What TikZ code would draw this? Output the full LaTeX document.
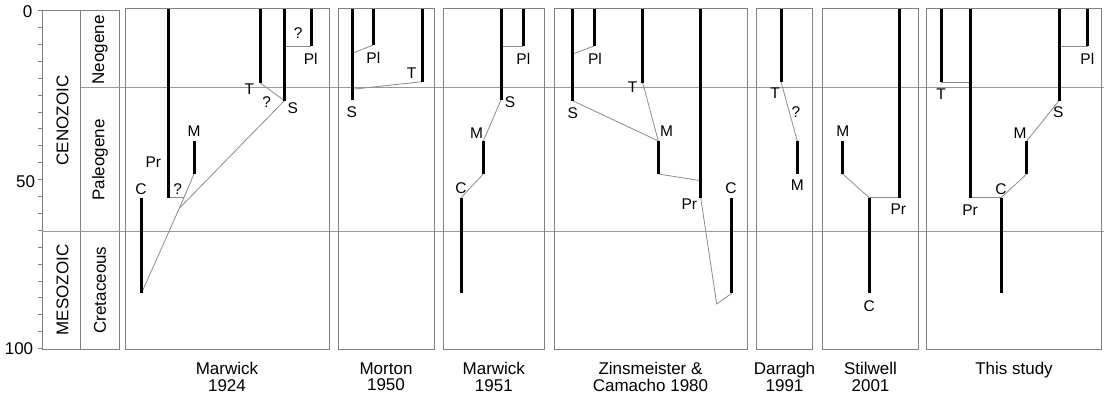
\documentclass[tikz,border=0pt]{standalone}
\usepackage{fontspec}
\setmainfont{Liberation Sans}
\begin{document}
\begin{tikzpicture}[x=1pt,y=-1pt,
  lineage/.style={line width=3pt,black,line cap=butt},
  link/.style={line width=0.8pt,draw=black!45},
  frame/.style={draw=black!50,line width=1pt},
  gridline/.style={draw=black!40,line width=0.8pt},
  taxon/.style={font=\fontsize{15.5}{16}\selectfont,inner sep=0pt},
  ref/.style={font=\fontsize{17}{16.7}\selectfont,align=center,inner sep=0pt,anchor=north},
  tick/.style={font=\fontsize{17}{17}\selectfont,inner sep=0pt},
  unit/.style={font=\fontsize{17}{17}\selectfont,inner sep=0pt,rotate=90}]
\useasboundingbox (0,0) rectangle (1104,398);

% ---- time axis ----
\draw[frame] (42,10.7) -- (42,349);
\foreach \k in {0,...,20} \draw[frame] (37.5,{10.7+16.9*\k}) -- (42,{10.7+16.9*\k});
\node[tick] (a0) at (27.5,11.7) {0};
\node[tick] (a50) at (25.7,181.7) {50};
\node[tick] (a100) at (19,348.3) {100};

% ---- era / period columns ----
\draw[frame] (42,10.7) rectangle (80.5,349);
\draw[frame] (80.5,10.7) rectangle (119,349);
\draw[gridline] (80.5,87.3) -- (1104,87.3);
\draw[gridline] (42,231.5) -- (1104,231.5);
\node[unit] (ceno) at (62.5,120.5) {CENOZOIC};
\node[unit] (meso) at (62.5,290) {MESOZOIC};
\node[unit] (neo) at (100,50) {Neogene};
\node[unit] (paleo) at (100,160) {Paleogene};
\node[unit] (cret) at (100,290) {Cretaceous};

% ---- panel frames ----
\draw[frame] (125,9) rectangle (329,349);
\draw[frame] (338.3,9) rectangle (434,349);
\draw[frame] (443.3,9) rectangle (544.3,349);
\draw[frame] (554,9) rectangle (747,349);
\draw[frame] (756.7,9) rectangle (812.3,349);
\draw[frame] (822.7,9) rectangle (918.3,349);
\draw[frame] (926.7,9) rectangle (1101,349);

% ---- Marwick 1924 ----
\coordinate (aPrt) at (168.5,9);   \coordinate (aPrb) at (168.5,197.7);
\coordinate (aMt) at (194,141);    \coordinate (aMb) at (194,174);
\coordinate (aCt) at (141.7,198.3);\coordinate (aCb) at (141.7,292.7);
\coordinate (aTt) at (260,9);      \coordinate (aTb) at (260,82.7);
\coordinate (aSt) at (284.3,9);    \coordinate (aSb) at (284.3,100.7);
\coordinate (aPlt) at (311,9);     \coordinate (aPlb) at (311,46);
\coordinate (aJ) at (179.3,208.3); \coordinate (aQ) at (183.8,197.7);
\coordinate (aSp) at (284.3,46);
\draw[link] (aPrb) -- (aQ);
\draw[link] (aMb) -- (aJ);
\draw[link] (aJ) -- (aSb);
\draw[link] (aJ) -- (aCb);
\draw[link] (aTb) -- (aSb);
\draw[link] (aSp) -- (aPlb);
\draw[lineage] (aPrt) -- (aPrb);
\draw[lineage] (aMt) -- (aMb);
\draw[lineage] (aCt) -- (aCb);
\draw[lineage] (aTt) -- (aTb);
\draw[lineage] (aSt) -- (aSb);
\draw[lineage] (aPlt) -- (aPlb);
\node[taxon] (aPr) at (153.3,161.7) {Pr};
\node[taxon] (aq1) at (177.7,189.3) {?};
\node[taxon] (aM) at (194,131) {M};
\node[taxon] (aC) at (141,189) {C};
\node[taxon] (aT) at (249.3,89.3) {T};
\node[taxon] (aq2) at (266.7,101.7) {?};
\node[taxon] (aS) at (292.7,108.3) {S};
\node[taxon] (aq3) at (298.3,33.3) {?};
\node[taxon] (aPl) at (310.7,59.3) {Pl};

% ---- Morton 1950 ----
\coordinate (bSt) at (352.3,9);  \coordinate (bSb) at (352.3,100);
\coordinate (bPlt) at (373.3,9); \coordinate (bPlb) at (373.3,45);
\coordinate (bTt) at (422,9);    \coordinate (bTb) at (422,81.7);
\coordinate (bS1) at (352.3,53.3); \coordinate (bS2) at (352.3,89.3);
\draw[link] (bPlb) -- (bS1);
\draw[link] (bTb) -- (bS2);
\draw[lineage] (bSt) -- (bSb);
\draw[lineage] (bPlt) -- (bPlb);
\draw[lineage] (bTt) -- (bTb);
\node[taxon] (bS) at (351.7,112.3) {S};
\node[taxon] (bPl) at (373.3,58.3) {Pl};
\node[taxon] (bT) at (411.7,72.7) {T};

% ---- Marwick 1951 ----
\coordinate (cSt) at (501,9);     \coordinate (cSb) at (501,100);
\coordinate (cPlt) at (523.3,9);  \coordinate (cPlb) at (523.3,46);
\coordinate (cMt) at (483.3,141); \coordinate (cMb) at (483.3,174);
\coordinate (cCt) at (461,197.7); \coordinate (cCb) at (461,292.7);
\coordinate (cSp) at (501,46);
\draw[link] (cSp) -- (cPlb);
\draw[link] (cSb) -- (cMt);
\draw[link] (cMb) -- (cCt);
\draw[lineage] (cSt) -- (cSb);
\draw[lineage] (cPlt) -- (cPlb);
\draw[lineage] (cMt) -- (cMb);
\draw[lineage] (cCt) -- (cCb);
\node[taxon] (cS) at (510,102.3) {S};
\node[taxon] (cPl) at (523.3,59.3) {Pl};
\node[taxon] (cM) at (476.7,133.3) {M};
\node[taxon] (cC) at (461,188.3) {C};

% ---- Zinsmeister & Camacho 1980 ----
\coordinate (dSt) at (572.7,9);   \coordinate (dSb) at (572.7,100.7);
\coordinate (dPlt) at (594,9);    \coordinate (dPlb) at (594,46);
\coordinate (dTt) at (642.7,9);   \coordinate (dTb) at (642.7,82.7);
\coordinate (dMt) at (658.3,141); \coordinate (dMb) at (658.3,174);
\coordinate (dPrt) at (700.7,9);  \coordinate (dPrb) at (700.7,197.7);
\coordinate (dCt) at (731.7,198.3); \coordinate (dCb) at (731.7,293.3);
\coordinate (dS1) at (572.7,54);  \coordinate (dPr1) at (700.7,180.7);
\coordinate (dK) at (716.7,304);
\draw[link] (dPlb) -- (dS1);
\draw[link] (dTb) -- (dMt);
\draw[link] (dSb) -- (dMt);
\draw[link] (dMb) -- (dPr1);
\draw[link] (dPrb) -- (dK) -- (dCb);
\draw[lineage] (dSt) -- (dSb);
\draw[lineage] (dPlt) -- (dPlb);
\draw[lineage] (dTt) -- (dTb);
\draw[lineage] (dMt) -- (dMb);
\draw[lineage] (dPrt) -- (dPrb);
\draw[lineage] (dCt) -- (dCb);
\node[taxon] (dS) at (572.7,112.7) {S};
\node[taxon] (dPl) at (595,59.3) {Pl};
\node[taxon] (dT) at (632.7,87.3) {T};
\node[taxon] (dM) at (666.7,131) {M};
\node[taxon] (dPr) at (689.3,204) {Pr};
\node[taxon] (dC) at (731,188.3) {C};

% ---- Darragh 1991 ----
\coordinate (eTt) at (781,9);     \coordinate (eTb) at (781,81.7);
\coordinate (eMt) at (797.3,141); \coordinate (eMb) at (797.3,174);
\draw[link] (eTb) -- (eMt);
\draw[lineage] (eTt) -- (eTb);
\draw[lineage] (eMt) -- (eMb);
\node[taxon] (eT) at (775,92.7) {T};
\node[taxon] (eq) at (796,111.7) {?};
\node[taxon] (eM) at (797.3,185) {M};

% ---- Stilwell 2001 ----
\coordinate (fMt) at (842.7,141);   \coordinate (fMb) at (842.7,174);
\coordinate (fCt) at (869.3,197.7); \coordinate (fCb) at (869.3,293.3);
\coordinate (fPrt) at (899,9);      \coordinate (fPrb) at (899,197.7);
\draw[link] (fMb) -- (fCt);
\draw[link] (fCt) -- (fPrb);
\draw[lineage] (fMt) -- (fMb);
\draw[lineage] (fCt) -- (fCb);
\draw[lineage] (fPrt) -- (fPrb);
\node[taxon] (fM) at (842.7,131) {M};
\node[taxon] (fC) at (869.3,306) {C};
\node[taxon] (fPr) at (898.3,209.3) {Pr};

% ---- This study ----
\coordinate (gTt) at (941,9);       \coordinate (gTb) at (941,82);
\coordinate (gPrt) at (970,9);      \coordinate (gPrb) at (970,197.7);
\coordinate (gCt) at (1001,197.7);  \coordinate (gCb) at (1001,292.7);
\coordinate (gMt) at (1026.7,141);  \coordinate (gMb) at (1026.7,174);
\coordinate (gSt) at (1059,9);      \coordinate (gSb) at (1059,100.7);
\coordinate (gPlt) at (1087.7,9);   \coordinate (gPlb) at (1087.7,46);
\coordinate (gPr1) at (970,82);     \coordinate (gSp) at (1059,46);
\draw[link] (gTb) -- (gPr1);
\draw[link] (gPrb) -- (gCt);
\draw[link] (gCt) -- (gMb);
\draw[link] (gMt) -- (gSb);
\draw[link] (gSp) -- (gPlb);
\draw[lineage] (gTt) -- (gTb);
\draw[lineage] (gPrt) -- (gPrb);
\draw[lineage] (gCt) -- (gCb);
\draw[lineage] (gMt) -- (gMb);
\draw[lineage] (gSt) -- (gSb);
\draw[lineage] (gPlt) -- (gPlb);
\node[taxon] (gT) at (941,94.3) {T};
\node[taxon] (gPr) at (970,210) {Pr};
\node[taxon] (gC) at (1001,189) {C};
\node[taxon] (gM) at (1020,132.7) {M};
\node[taxon] (gS) at (1058.3,111.7) {S};
\node[taxon] (gPl) at (1087.3,59.3) {Pl};

% ---- sources ----
\node[ref] (r1) at (227,362.3) {Marwick\\1924};
\node[ref] (r2) at (386,362.3) {Morton\\1950};
\node[ref] (r3) at (493.8,362.3) {Marwick\\1951};
\node[ref] (r4) at (650.5,362.3) {Zinsmeister \&\\Camacho 1980};
\node[ref] (r5) at (784.5,362.3) {Darragh\\1991};
\node[ref] (r6) at (870.5,362.3) {Stilwell\\2001};
\node[ref] (r7) at (1014,362.3) {This study};
\end{tikzpicture}
\end{document}
